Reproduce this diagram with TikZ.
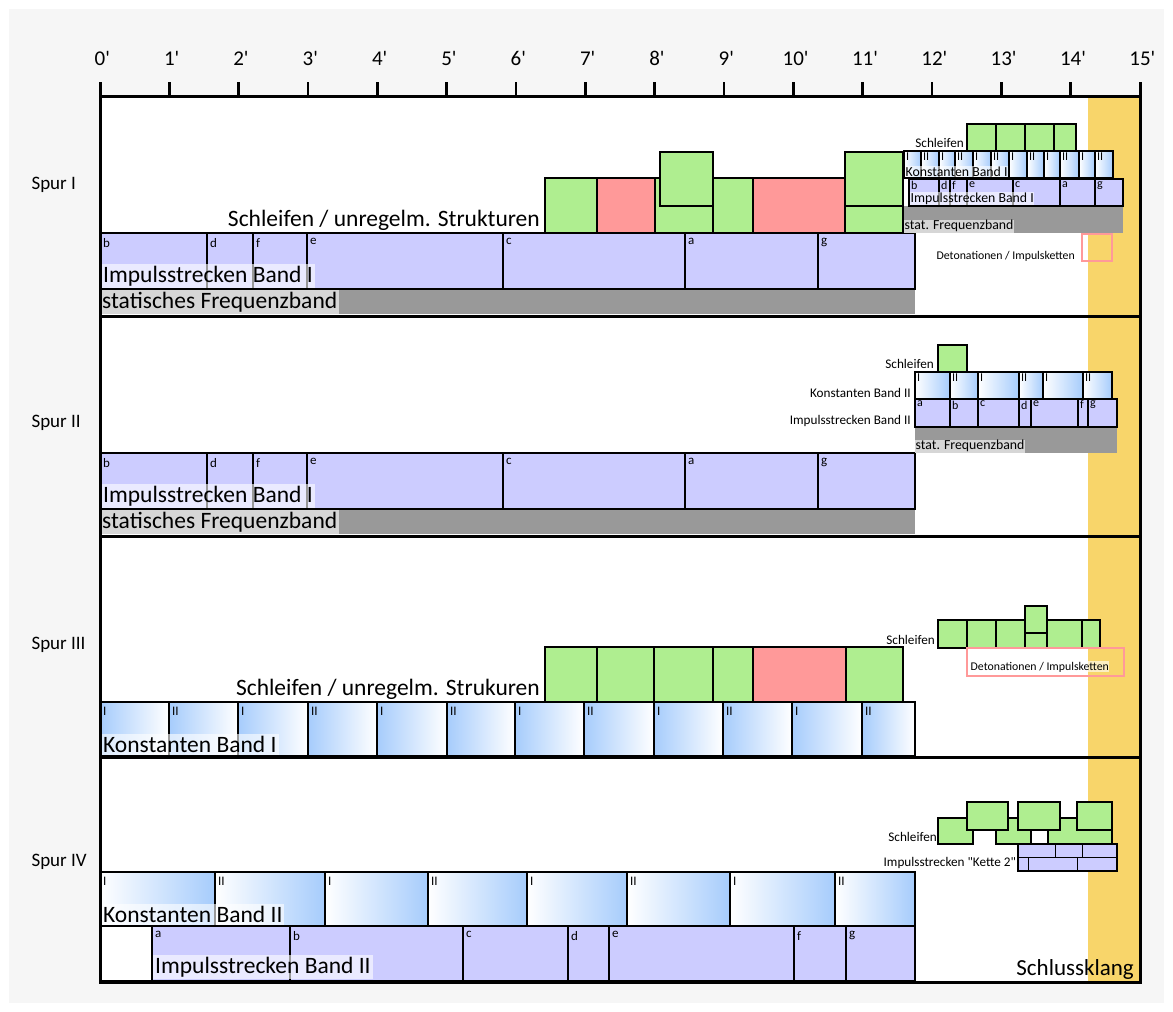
\documentclass[tikz,border=0pt]{standalone}
\usepackage{fontspec}
\setmainfont{Carlito}[Ligatures=TeXOff]
\usetikzlibrary{positioning}

\definecolor{bggray}{RGB}{246,246,246}
\definecolor{implila}{RGB}{204,204,255}
\definecolor{schgreen}{RGB}{175,238,144}
\definecolor{schred}{RGB}{255,153,153}
\definecolor{freqgray}{RGB}{153,153,153}
\definecolor{endyellow}{RGB}{248,213,106}
\definecolor{konblue}{RGB}{166,204,252}

\newcommand{\fsz}[1]{\fontsize{#1}{#1}\selectfont}

\begin{document}
\begin{tikzpicture}[x=1pt, y=-1pt,
    bar/.style={draw, line width=2pt},
    impbar/.style={bar, fill=implila},
    konbar/.style={bar, left color=white, right color=konblue},
    konbarrev/.style={bar, left color=konblue, right color=white},
    loopgreen/.style={bar, fill=schgreen},
    loopred/.style={bar, fill=schred},
    seglbl/.style={anchor=north west, inner xsep=3pt, inner ysep=5pt, font=\fsz{13}},
    minilbl/.style={anchor=north west, inner xsep=2pt, inner ysep=1.5pt, font=\fsz{12}},
    bandlbl/.style={anchor=south west, fill=white, fill opacity=0.6,
                    text opacity=1, inner sep=2pt, font=\fsz{23.5}},
    minibandlbl/.style={anchor=south west, fill=white, fill opacity=0.6,
                    text opacity=1, inner sep=0.5pt, font=\fsz{13.8}},
    sidelbl/.style={anchor=base east, inner sep=0pt, font=\fsz{13.2}},
    looplbl/.style={anchor=base east, inner sep=0pt, font=\fsz{23.5}},
    spurlbl/.style={anchor=west, font=\fsz{19}},
    ticklbl/.style={anchor=base, font=\fsz{21}},
    detobox/.style={draw=schred, line width=2pt}
  ]
  \useasboundingbox (0,0) rectangle (1173,1012);
  \fill[bggray] (9,9) rectangle (1164,1003);

  % ---- Frame and time axis ----
  \fill[white] (100,96) rectangle (1140,982);
  \fill[endyellow] (1088,96) rectangle (1140,982);
  \foreach \m in {0,...,15} {
    \draw[line width=2.5pt] (100+\m*69.333,82) -- (100+\m*69.333,96);
    \node[ticklbl] (t\m) at (100+\m*69.333,65) {\m\rlap{'}};
  }

  % ---- Spur I ----
  \node[spurlbl] (spur1) at (28,185) {Spur I};
  \fill[freqgray] (100,289) rectangle (915,314);
  \foreach \a/\b/\l in {100/207/b,207/253/d,253/307/f,307/503/e,503/685/c,685/818/a,818/915/g} {
    \draw[impbar] (\a,233) rectangle (\b,289);
    \node[seglbl] (s1imp-\l) at (\a,233) {\l};
  }
  \node[bandlbl] (s1imp) at (101,288) {Impulsstrecken Band I};
  \node[bandlbl, minimum height=23pt] (s1freq) at (100,314) {statisches Frequenzband};
  \foreach \a/\b/\c [count=\i] in {545/597/loopgreen,597/655/loopred,655/713/loopgreen,713/753/loopgreen,753/845/loopred,845/903/loopgreen}
    \draw[\c] (\a,178) rectangle (\b,233);
  \draw[loopgreen] (660,152) rectangle (713,206);
  \draw[loopgreen] (845,152) rectangle (903,206);
  \node[looplbl] (s1loop) at (540,226) {Schleifen / unregelm. Strukturen};

  % right part of Spur I
  \fill[freqgray] (904,206) rectangle (1123,233);
  \node[minibandlbl, minimum height=13pt] (s1mfreq) at (904,233) {stat. Frequenzband};
  \foreach \a/\b/\l [count=\i] in {904/921/I,921/939/II,939/955/I,955/973/II,973/991/I,991/1009/II,1009/1027/I,1027/1044/II,1044/1060/I,1060/1079/II,1079/1095/I,1095/1113/II} {
    \draw[konbar] (\a,151) rectangle (\b,178);
    \node[minilbl] (s1mkon-\i) at (\a,151) {\l};
  }
  \node[minibandlbl] (s1mkon) at (905,177) {Konstanten Band I};
  \foreach \a/\b/\l in {909/939/b,939/950/d,950/967/f,967/1013/e,1013/1060/c,1060/1095/a,1095/1123/g} {
    \draw[impbar] (\a,179) rectangle (\b,206);
    \node[minilbl] (s1mimp-\l) at (\a,179.5) {\l};
  }
  \node[minibandlbl] (s1mimp) at (910,205) {Impulsstrecken Band I};
  \foreach \a/\b [count=\i] in {967/996,996/1025,1025/1054,1054/1076}
    \draw[loopgreen] (\a,124) rectangle (\b,151);
  \node[sidelbl] (s1mloop) at (964,147) {Schleifen};
  \draw[detobox] (1082,234) rectangle (1112,261);
  \node[sidelbl, font=\fsz{11.8}] (s1deto) at (1075,259) {Detonationen / Impulsketten};

  % ---- Spur II ----
  \node[spurlbl] (spur2) at (28,423) {Spur II};
  \fill[freqgray] (100,509) rectangle (915,534);
  \foreach \a/\b/\l in {100/207/b,207/253/d,253/307/f,307/503/e,503/685/c,685/818/a,818/915/g} {
    \draw[impbar] (\a,453) rectangle (\b,509);
    \node[seglbl] (s2imp-\l) at (\a,453) {\l};
  }
  \node[bandlbl] (s2imp) at (101,508) {Impulsstrecken Band I};
  \node[bandlbl, minimum height=23pt] (s2freq) at (100,534) {statisches Frequenzband};

  % right part of Spur II
  \fill[freqgray] (915,427) rectangle (1117,453);
  \node[minibandlbl, minimum height=13pt] (s2mfreq) at (915,453) {stat. Frequenzband};
  \foreach \a/\b/\l [count=\i] in {915/950/I,950/978/II,978/1019/I,1019/1043/II,1043/1083/I,1083/1112/II} {
    \draw[konbar] (\a,372) rectangle (\b,399);
    \node[minilbl] (s2mkon-\i) at (\a,372) {\l};
  }
  \foreach \a/\b/\l in {915/950/a,950/978/b,978/1019/c,1019/1031/d,1031/1078/e,1078/1088/f,1088/1117/g} {
    \draw[impbar] (\a,399) rectangle (\b,427);
    \node[minilbl] (s2mimp-\l) at (\a,399) {\l};
  }
  \draw[loopgreen] (938,345) rectangle (967,372);
  \node[sidelbl] (s2mloop) at (934,368) {Schleifen};
  \node[sidelbl] (s2mkon) at (911,397) {Konstanten Band II};
  \node[sidelbl] (s2mimp) at (911,424) {Impulsstrecken Band II};

  % ---- Spur III ----
  \node[spurlbl] (spur3) at (28,645) {Spur III};
  \foreach \a/\b/\l [count=\i] in {100/169/I,169/238/II,238/308/I,308/377/II,377/447/I,447/515/II,515/584/I,584/654/II,654/723/I,723/792/II,792/862/I,862/915/II} {
    \draw[konbarrev] (\a,702) rectangle (\b,756);
    \node[seglbl] (s3kon-\i) at (\a,702) {\l};
  }
  \node[bandlbl] (s3kon) at (101,755) {Konstanten Band I};
  \foreach \a/\b/\c [count=\i] in {545/597/loopgreen,597/654/loopgreen,654/713/loopgreen,713/753/loopgreen,753/846/loopred,846/903/loopgreen}
    \draw[\c] (\a,647) rectangle (\b,702);
  \node[looplbl] (s3loop) at (540,695) {Schleifen / unregelm. Strukuren};

  % right part of Spur III
  \foreach \a/\b [count=\i] in {938/967,967/996,996/1025,1025/1047,1047/1082,1082/1100}
    \draw[loopgreen] (\a,620) rectangle (\b,648);
  \draw[loopgreen] (1025,606) rectangle (1047,633);
  \node[sidelbl] (s3mloop) at (935,644) {Schleifen};
  \draw[detobox] (967,648) rectangle (1124,676);
  \node[minibandlbl, anchor=base west, font=\fsz{11.8}] (s3deto) at (970,670) {Detonationen / Impulsketten};

  % ---- Spur IV ----
  \node[spurlbl] (spur4) at (28,862) {Spur IV};
  \foreach \a/\b/\l [count=\i] in {100/215/I,215/325/II,325/428/I,428/527/II,527/627/I,627/730/II,730/835/I,835/915/II} {
    \draw[konbar] (\a,872) rectangle (\b,926);
    \node[seglbl] (s4kon-\i) at (\a,872) {\l};
  }
  \node[bandlbl] (s4kon) at (101,925) {Konstanten Band II};
  \draw[bar, fill=white] (100,926) rectangle (152,981);
  \foreach \a/\b/\l in {152/290/a,290/463/b,463/568/c,568/609/d,609/794/e,794/846/f,846/915/g} {
    \draw[impbar] (\a,926) rectangle (\b,981);
    \node[seglbl] (s4imp-\l) at (\a,926) {\l};
  }
  \node[bandlbl] (s4imp) at (153,979) {Impulsstrecken Band II};

  % right part of Spur IV
  \foreach \a/\b [count=\i] in {938/973,996/1031,1048/1112}
    \draw[loopgreen] (\a,818) rectangle (\b,844);
  \draw[bar, fill=white] (1031,830) rectangle (1048,844);
  \foreach \a/\b [count=\i] in {967/1008,1018/1060,1077/1112}
    \draw[loopgreen] (\a,802) rectangle (\b,830);
  \node[sidelbl] (s4mloop) at (937,841) {Schleifen};
  \draw[impbar] (1018,844) rectangle (1117,871);
  \draw[line width=1pt] (1018,857) -- (1117,857)
    (1055,844) -- (1055,857) (1082,844) -- (1082,857)
    (1028,857) -- (1028,871) (1077,857) -- (1077,871);
  \node[sidelbl] (s4mkette) at (1016,866) {Impulsstrecken "Kette 2"};

  % ---- Spur borders, frame, end ----
  \foreach \y in {316,536,757}
    \draw[line width=3pt] (100,\y) -- (1140,\y);
  \draw[line width=3pt] (100,82) -- (100,982) -- (1140,982) -- (1140,82);
  \draw[line width=3pt] (100,96) -- (1140,96);
  \node[anchor=base east, inner sep=0pt, font=\fsz{23}] (schluss) at (1134,975) {Schlussklang};
\end{tikzpicture}
\end{document}
